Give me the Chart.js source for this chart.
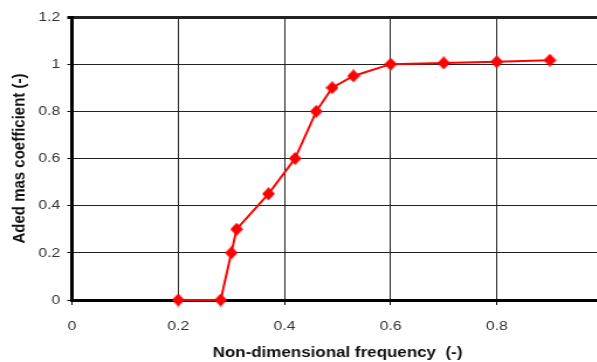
<!DOCTYPE html>
<html>
<head>
<meta charset="utf-8">
<script src="https://cdn.jsdelivr.net/npm/chart.js@4/dist/chart.umd.min.js"></script>
<style>
  html, body { margin: 0; padding: 0; background: #fff; overflow: hidden; }
  #wrap { width: 597px; height: 362px; overflow: hidden; }
  /* the chart is drawn narrow and widened, giving the broad lettering */
  #massChart { transform: scaleX(1.17); transform-origin: 0 0; }
</style>
</head>
<body>
<div id="wrap"><canvas id="massChart" width="530" height="362"></canvas></div>
<script>
// measured added mass coefficient vs non-dimensional frequency
const frequency = [0.2, 0.28, 0.3, 0.31, 0.37, 0.42, 0.46, 0.49, 0.53, 0.6, 0.7, 0.8, 0.9];
const addedMass = [0, 0, 0.2, 0.3, 0.45, 0.6, 0.8, 0.9, 0.95, 1.0, 1.005, 1.01, 1.017];

const xTicks = [0, 0.2, 0.4, 0.6, 0.8, 1];
const yTicks = [0, 0.2, 0.4, 0.6, 0.8, 1, 1.2];

const points = frequency.map((f, i) => ({ x: f, y: addedMass[i] }));

const STRETCH = 1.17;

// red diamond marker, narrowed so it stays square after the widening
function diamond(w, h) {
    const c = document.createElement('canvas');
    c.width = w;
    c.height = h;
    const g = c.getContext('2d');
    g.fillStyle = '#ff0000';
    g.beginPath();
    g.moveTo(w / 2, 0);
    g.lineTo(w, h / 2);
    g.lineTo(w / 2, h);
    g.lineTo(0, h / 2);
    g.closePath();
    g.fill();
    return c;
}
const marker = diamond(11, 13);

const tickFont = { family: 'Liberation Sans, Arial, sans-serif', size: 13.5 };
const titleFont = { family: 'Liberation Sans, Arial, sans-serif', size: 14.5, weight: 'bold' };

new Chart(document.getElementById('massChart').getContext('2d'), {
    type: 'scatter',
    data: {
        datasets: [{
            data: points,
            showLine: true,
            borderColor: '#ff0000',
            backgroundColor: '#ff0000',
            borderWidth: 2,
            pointStyle: marker,
            pointRadius: 6,
            pointHoverRadius: 6,
            clip: false
        }]
    },
    options: {
        responsive: false,
        animation: false,
        layout: { padding: { top: 17, right: 530 - 603 / STRETCH, left: 0, bottom: 0 } },
        plugins: { legend: { display: false }, tooltip: { enabled: false } },
        scales: {
            x: {
                type: 'linear',
                min: 0,
                max: 1,
                afterBuildTicks: scale => { scale.ticks = xTicks.map(v => ({ value: v })); },
                afterFit: scale => { scale.height = 62; },
                ticks: {
                    font: tickFont,
                    color: '#333',
                    padding: 13,
                    maxRotation: 0,
                    callback: v => (v === 1 ? '' : String(v))
                },
                grid: {
                    color: '#222',
                    lineWidth: ctx => (ctx.tick && ctx.tick.value === 1 ? 3 : 1),
                    tickLength: 5,
                    tickColor: '#000'
                },
                border: { display: true, color: '#000', width: 3 },
                title: {
                    display: true,
                    text: 'Non-dimensional frequency  (-)',
                    font: titleFont,
                    color: '#111',
                    padding: { top: 0, bottom: 0 }
                }
            },
            y: {
                type: 'linear',
                min: 0,
                max: 1.2,
                afterBuildTicks: scale => { scale.ticks = yTicks.map(v => ({ value: v })); },
                afterFit: scale => { scale.width = 72 / STRETCH; },
                ticks: {
                    font: tickFont,
                    color: '#333',
                    padding: 6,
                    callback: v => String(v)
                },
                grid: {
                    color: '#222',
                    lineWidth: ctx => (ctx.tick && ctx.tick.value === 1.2 ? 3 : 1),
                    tickLength: 4,
                    tickColor: '#000'
                },
                border: { display: true, color: '#000', width: 3 },
                title: {
                    display: true,
                    text: 'Aded mas coefficient (-)',
                    font: { ...titleFont, size: 15 },
                    color: '#111',
                    padding: { top: 7.5, bottom: 0 }
                }
            }
        }
    }
});
</script>
</body>
</html>
